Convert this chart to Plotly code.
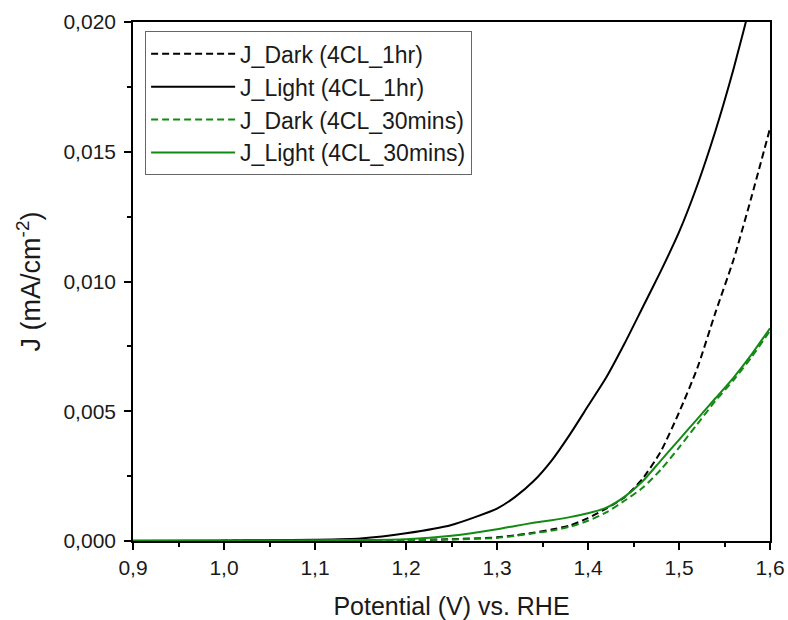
import plotly.graph_objects as go

# Potential (V vs. RHE) sampling points
potential = [0.90, 1.00, 1.10, 1.15, 1.20, 1.25, 1.30, 1.32, 1.34, 1.36, 1.38, 1.40,
             1.42, 1.44, 1.46, 1.48, 1.50, 1.52, 1.54, 1.56, 1.58, 1.60]

# Current density (mA/cm^-2) for each measurement
j_dark_1hr = [0.0, 0.000005, 0.00001, 0.00002, 0.00003, 0.00007, 0.00014, 0.00022, 0.00032,
              0.00044, 0.00060, 0.00088, 0.00125, 0.00168, 0.00240, 0.00345, 0.00495,
              0.00665, 0.00880, 0.01085, 0.01330, 0.01590]
j_light_1hr = [0.00001, 0.00002, 0.00005, 0.00010, 0.00030, 0.00062, 0.00125, 0.00170, 0.00230,
               0.00310, 0.00410, 0.00520, 0.00630, 0.00760, 0.00900, 0.01040, 0.01190,
               0.01370, 0.01580, 0.01820, 0.02090, 0.02380]
j_dark_30min = [0.0, 0.000005, 0.00001, 0.00002, 0.00003, 0.00006, 0.00012, 0.00020, 0.00030,
                0.00040, 0.00055, 0.00078, 0.00110, 0.00155, 0.00205, 0.00275, 0.00360,
                0.00450, 0.00540, 0.00620, 0.00710, 0.00810]
j_light_30min = [0.00001, 0.00001, 0.00003, 0.00004, 0.00007, 0.00020, 0.00045, 0.00058, 0.00070,
                 0.00080, 0.00092, 0.00107, 0.00128, 0.00170, 0.00230, 0.00310, 0.00390,
                 0.00470, 0.00550, 0.00630, 0.00720, 0.00820]

GREEN = "#138a13"
FONT = "Liberation Sans, Arial, sans-serif"
TEXT = "#1a1a1a"

series = [
    ("J_Dark (4CL_1hr)", j_dark_1hr, "black", "7px,4px"),
    ("J_Light (4CL_1hr)", j_light_1hr, "black", "solid"),
    ("J_Dark (4CL_30mins)", j_dark_30min, GREEN, "7px,4px"),
    ("J_Light (4CL_30mins)", j_light_30min, GREEN, "solid"),
]

fig = go.Figure()
for name, vals, color, dash in series:
    fig.add_trace(go.Scatter(
        x=potential, y=vals, name=name, mode="lines",
        line=dict(color=color, width=2, dash=dash, shape="spline", smoothing=0.6),
    ))

axis_common = dict(
    showline=True, linecolor="black", linewidth=1.6, mirror=True,
    ticks="outside", ticklen=7, tickwidth=1.6, tickcolor="black",
    showgrid=False, zeroline=False, automargin=False,
    tickfont=dict(family=FONT, size=21, color=TEXT),
)

fig.update_xaxes(
    range=[0.9, 1.6], dtick=0.1, tick0=0.9, tickformat=".1f",
    minor=dict(ticks="outside", ticklen=4, tickwidth=1.6, tickcolor="black", dtick=0.05),
    title=dict(text="Potential (V) vs. RHE", font=dict(family=FONT, size=25, color=TEXT),
               standoff=20),
    **axis_common,
)
fig.update_yaxes(
    range=[0, 0.020], dtick=0.005, tickformat=".3f",
    minor=dict(ticks="outside", ticklen=4, tickwidth=1.6, tickcolor="black", dtick=0.0025),
    ticklabelstandoff=4,
    title=dict(text="J (mA/cm<sup>-2</sup>)", font=dict(family=FONT, size=27, color=TEXT),
               standoff=15),
    **axis_common,
)

fig.update_layout(
    width=788, height=620,
    margin=dict(l=133, r=18, t=22, b=79),
    paper_bgcolor="white", plot_bgcolor="white",
    separators=",.",
    font=dict(family=FONT, color=TEXT),
    legend=dict(
        x=0.019, y=0.982, xanchor="left", yanchor="top",
        bgcolor="white", bordercolor="#666", borderwidth=1,
        font=dict(family=FONT, size=23, color=TEXT),
        tracegroupgap=0, itemwidth=84,
    ),
    showlegend=True,
)

fig.write_html("out.html")
